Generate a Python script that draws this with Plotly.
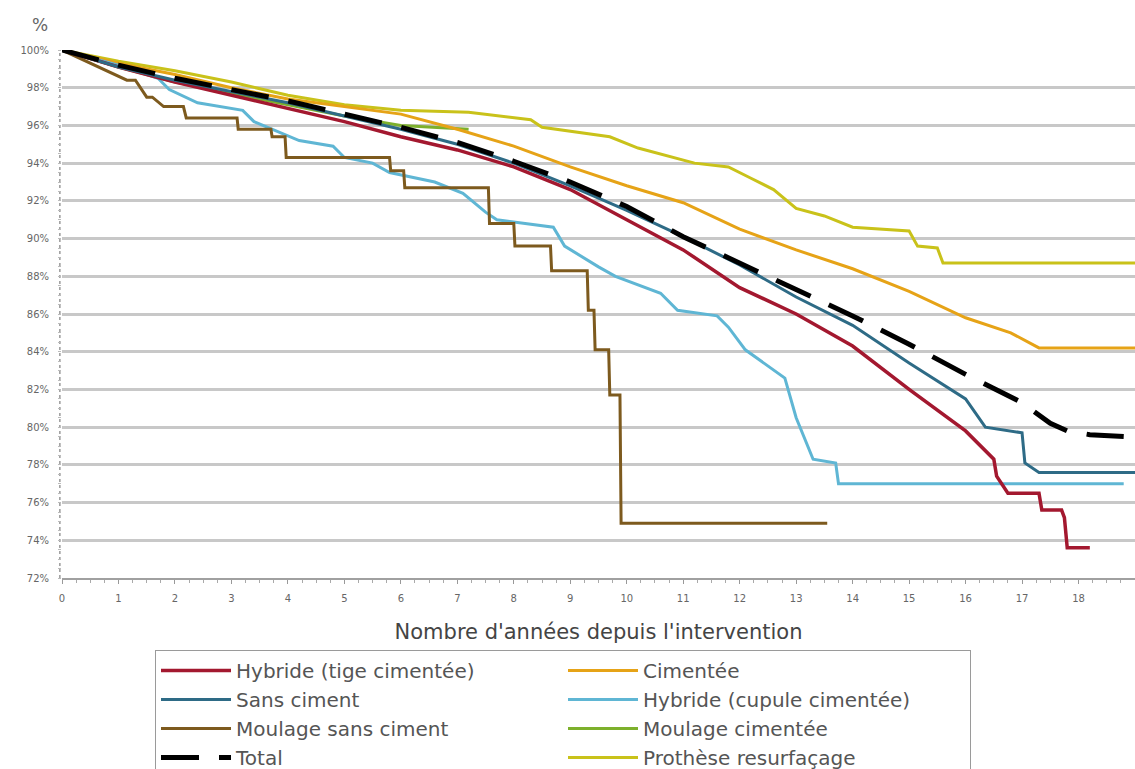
import plotly.graph_objects as go

# ---------------- data ----------------
y_tick_vals = [72, 74, 76, 78, 80, 82, 84, 86, 88, 90, 92, 94, 96, 98, 100]
y_tick_text = ["72%", "74%", "76%", "78%", "80%", "82%", "84%", "86%", "88%",
               "90%", "92%", "94%", "96%", "98%", "100%"]
x_tick_vals = list(range(0, 20))

# Hybride (tige cimentée)
hyb_tige_x = [0, 1, 2, 3, 4, 5, 6, 7, 8, 9, 10, 11, 12, 13, 14, 15, 16, 16.5, 16.55,
              16.75, 17.3, 17.35, 17.7, 17.75, 17.8, 18.2]
hyb_tige_y = [100, 99.1, 98.3, 97.6, 96.9, 96.2, 95.4, 94.7, 93.8, 92.6, 91.0, 89.4, 87.4,
              86.0, 84.3, 82.0, 79.8, 78.3, 77.4, 76.5, 76.5, 75.6, 75.6, 75.2, 73.6, 73.6]

# Sans ciment
sans_x = [0, 1, 2, 3, 4, 5, 6, 7, 8, 9, 10, 11, 12, 13, 14, 15, 16, 16.35, 17.0,
          17.05, 17.3, 19]
sans_y = [100, 99.1, 98.4, 97.8, 97.2, 96.5, 95.8, 95.0, 94.0, 92.8, 91.5, 90.1, 88.6,
          86.9, 85.4, 83.4, 81.5, 80.0, 79.7, 78.1, 77.6, 77.6]

# Moulage sans ciment
moul_sans_x = [0, 1.15, 1.3, 1.5, 1.6, 1.8, 2.15, 2.2, 3.1, 3.12, 3.7, 3.72, 3.95, 3.97,
               5.8, 5.82, 6.05, 6.07, 7.55, 7.57, 8.0, 8.02, 8.65, 8.67, 9.3, 9.32,
               9.42, 9.44, 9.68, 9.7, 9.88, 9.9, 13.55]
moul_sans_y = [100, 98.4, 98.4, 97.5, 97.5, 97.0, 97.0, 96.4, 96.4, 95.8, 95.8, 95.4, 95.4,
               94.3, 94.3, 93.6, 93.6, 92.7, 92.7, 90.8, 90.8, 89.6, 89.6, 88.3, 88.3, 86.2,
               86.2, 84.1, 84.1, 81.7, 81.7, 74.9, 74.9]

# Total
total_x = [0, 1, 2, 3, 4, 5, 6, 7, 8, 9, 10, 11, 12, 13, 14, 15, 16, 17, 17.5, 17.8,
           18.2, 18.8]
total_y = [100, 99.2, 98.5, 97.9, 97.3, 96.6, 95.9, 95.1, 94.1, 93.0, 91.7, 90.1, 88.7,
           87.3, 85.9, 84.4, 82.8, 81.3, 80.2, 79.8, 79.6, 79.5]

# Cimentée
cim_x = [0, 1, 2, 3, 4, 5, 6, 7, 8, 9, 10, 11, 12, 13, 14, 15, 16, 16.8, 17.3, 19]
cim_y = [100, 99.3, 98.7, 98.0, 97.4, 97.0, 96.6, 95.8, 94.9, 93.8, 92.8, 91.9, 90.5,
         89.4, 88.4, 87.2, 85.8, 85.0, 84.2, 84.2]

# Hybride (cupule cimentée)
hyb_cup_x = [0, 1, 1.7, 1.9, 2.4, 3.2, 3.4, 4.2, 4.8, 5.0, 5.5, 5.8, 6.6, 7.1, 7.5, 7.7,
             8.7, 8.9, 9.5, 9.8, 10.6, 10.9, 11.6, 11.8, 12.1, 12.8, 13.0, 13.3, 13.7,
             13.75, 18.8]
hyb_cup_y = [100, 99.2, 98.5, 97.9, 97.2, 96.8, 96.2, 95.2, 94.9, 94.3, 94.0, 93.5, 93.0,
             92.4, 91.4, 91.0, 90.6, 89.6, 88.5, 88.0, 87.1, 86.2, 85.9, 85.3, 84.1, 82.6,
             80.5, 78.3, 78.1, 77.0, 77.0]

# Moulage cimentée
moul_cim_x = [0, 1, 2, 3, 4, 5, 6, 7.2]
moul_cim_y = [100, 99.1, 98.3, 97.7, 97.1, 96.5, 96.0, 95.8]

# Prothèse resurfaçage
resurf_x = [0, 1, 2, 3, 4, 5, 6, 7.2, 8.3, 8.5, 9.7, 10.2, 11.2, 11.8, 12.2, 12.6, 13.0,
            13.5, 14.0, 15.0, 15.15, 15.5, 15.6, 19]
resurf_y = [100, 99.4, 98.9, 98.3, 97.6, 97.1, 96.8, 96.7, 96.3, 95.9, 95.4, 94.8, 94.0,
            93.8, 93.2, 92.6, 91.6, 91.2, 90.6, 90.4, 89.6, 89.5, 88.7, 88.7]

# ---------------- figure ----------------
W, H = 1135, 769
L, R, T, B = 62, 0, 50, 191
FONT = "DejaVu Sans, Verdana, sans-serif"

series = [
    # name, x, y, color, width, dash, legend rank
    ("Moulage cimentée", moul_cim_x, moul_cim_y, "#7DB02C", 3, "solid", 6),
    ("Prothèse resurfaçage", resurf_x, resurf_y, "#C9C21A", 3, "solid", 8),
    ("Cimentée", cim_x, cim_y, "#E6A317", 3, "solid", 2),
    ("Hybride (cupule cimentée)", hyb_cup_x, hyb_cup_y, "#5FB6D4", 3, "solid", 4),
    ("Moulage sans ciment", moul_sans_x, moul_sans_y, "#7D5A1E", 3, "solid", 5),
    ("Hybride (tige cimentée)", hyb_tige_x, hyb_tige_y, "#A3182F", 3.5, "solid", 1),
    ("Sans ciment", sans_x, sans_y, "#2E6B86", 3, "solid", 3),
    ("Total", total_x, total_y, "#000000", 5, "38px,20px", 7),
]

fig = go.Figure()
for name, xs, ys, col, w, dash, rank in series:
    fig.add_trace(go.Scatter(
        x=xs, y=ys, mode="lines", name=name,
        line=dict(color=col, width=w, dash=dash),
        legendrank=rank,
    ))

fig.update_layout(
    width=W, height=H,
    margin=dict(l=L, r=R, t=T, b=B, pad=0, autoexpand=False),
    paper_bgcolor="white", plot_bgcolor="white",
    font=dict(family=FONT, color="#555555"),
    showlegend=True,
    legend=dict(
        orientation="h",
        x=(155 - L) / (W - L - R), xanchor="left",
        y=-(650 - (H - B)) / (H - T - B), yanchor="top",
        entrywidth=322, entrywidthmode="pixels",
        itemwidth=70,
        bordercolor="#9a9a9a", borderwidth=1,
        bgcolor="white",
        font=dict(size=20, color="#555555", family=FONT),
        traceorder="normal",
    ),
)

fig.update_xaxes(
    range=[0, 19], tickvals=x_tick_vals,
    ticks="outside", ticklen=4, tickcolor="#999999", tickwidth=1,
    minor=dict(dtick=0.25, ticks="outside", ticklen=3, tickcolor="#aaaaaa", showgrid=False),
    showgrid=False, zeroline=False,
    showline=True, linecolor="#a0a0a0", linewidth=2,
    tickfont=dict(size=10, color="#666666"),
    ticklabelstandoff=6,
    title=dict(text="Nombre d'années depuis l'intervention",
               font=dict(size=21, color="#444444"), standoff=21),
)

fig.update_yaxes(
    range=[72, 100], tickvals=y_tick_vals, ticktext=y_tick_text,
    showgrid=True, gridcolor="#c8c8c8", gridwidth=3,
    zeroline=False, showline=False,
    ticks="", tickfont=dict(size=10, color="#666666"),
    ticklabelstandoff=12,
    minor=dict(dtick=0.5, ticks="outside", ticklen=3, tickcolor="#bbbbbb", showgrid=False),
)

# dotted vertical axis line on the left
fig.add_shape(type="line", xref="paper", yref="paper", x0=-0.002, x1=-0.002, y0=0, y1=1,
              line=dict(color="#999999", width=1.5, dash="dot"), layer="below")

# "%" unit label
fig.add_annotation(text="%", xref="paper", yref="paper",
                   x=(40 - L) / (W - L - R), y=1 + (T - 25) / (H - T - B),
                   showarrow=False, font=dict(size=17, color="#666666", family=FONT),
                   xanchor="center", yanchor="middle")

fig.write_html("out.html")
